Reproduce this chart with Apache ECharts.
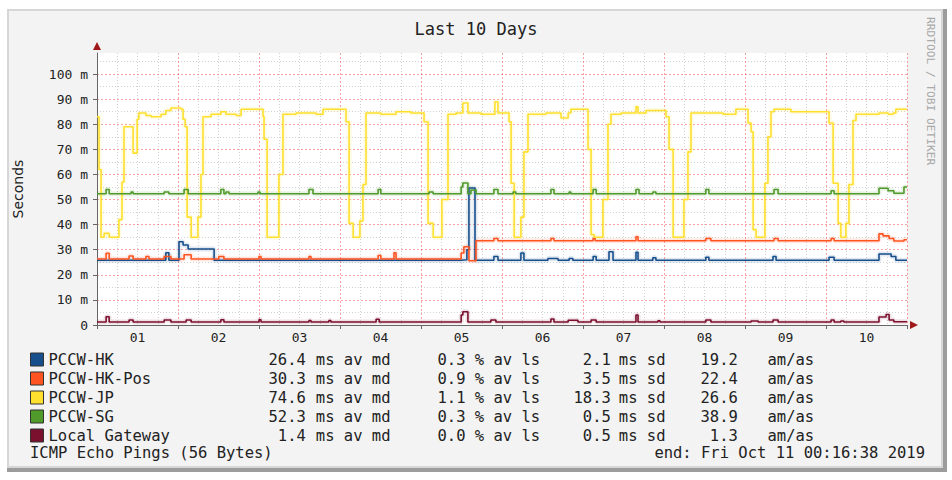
<!DOCTYPE html>
<html>
<head>
<meta charset="utf-8">
<title>Last 10 Days</title>
<script src="https://cdn.jsdelivr.net/npm/echarts@6/dist/echarts.min.js"></script>
<style>
html, body { margin: 0; padding: 0; background: #fff; }
#chart { width: 952px; height: 480px; }
</style>
</head>
<body>
<div id="chart"></div>
<script>
// x = hours since start of window, y = round trip time in ms
const dayLabels = ['01', '02', '03', '04', '05', '06', '07', '08', '09', '10'];
const names = ['PCCW-HK', 'PCCW-HK-Pos', 'PCCW-JP', 'PCCW-SG', 'Local Gateway'];
const colors = ['#174f8c', '#ff5421', '#ffe02e', '#4f9a2b', '#7a0f2e'];
const median = ['26.4', '30.3', '74.6', '52.3', '1.4'];
const loss = ['0.3', '0.9', '1.1', '0.3', '0.0'];
const stdev = ['2.1', '3.5', '18.3', '0.5', '0.5'];
const amas = ['19.2', '22.4', '26.6', '38.9', '1.3'];

const hk = [[0,25.8],[20.4,28.8],[21.3,25.8],[24.3,33.2],[25.5,31.9],[27.0,30.3],[34.7,25.8],
  [107.9,26],[109.6,30],[110.2,54.6],[112.0,25.8],[117.6,27.3],[118.8,25.8],[125.6,28.7],[126.5,25.8],
  [133.6,26.5],[136.6,25.8],[139.9,26.5],[141.0,25.8],[147.0,27.3],[147.9,25.8],[151.7,29.2],[152.9,25.8],
  [159.7,29],[160.3,25.8],[164.7,26.8],[165.6,25.8],[180.4,27],[181.3,25.8],[200.3,27.3],[201.2,25.8],
  [216.9,27],[218.4,25.8],[231.7,28.3],[235.3,27.3],[236.7,25.8],[240,25.8]];

const hkPos = [[0,26.3],[2.7,28.6],[3.6,26.3],[9.5,27.5],[10.7,26.3],[14.5,27.3],[15.4,26.3],[19.9,27.3],
  [21.9,26.3],[25.8,28],[27.9,26.3],[36.1,27.3],[37.6,26.3],[48.0,27.3],[48.6,26.3],[62.8,27.3],[63.4,26.3],
  [83.3,27.7],[84.1,26.3],[88.0,28.8],[88.6,26.3],[107.9,28.7],[108.7,31.2],[110.2,25.6],[112.3,33.6],
  [117.6,34.5],[118.8,33.6],[134.5,34.5],[135.4,33.6],[147.0,34.5],[147.6,33.6],[159.7,35.2],[160.3,33.6],
  [180.4,34.5],[181.9,33.6],[200.6,34.5],[201.8,33.6],[217.5,34.5],[218.4,33.6],[231.7,36.3],[232.9,35.5],
  [234.7,34.5],[236.1,33.5],[239.1,34],[240,34]];

const jp = [[0,83],[0.6,62],[1.2,35],[2.1,36.5],[3.6,35],[6.5,42],[7.4,57],[8.0,79],[10.7,68.5],[11.9,82],
  [12.4,84.5],[14.5,83.5],[16.0,83],[19.0,84],[20.4,85.5],[21.9,86.5],[24.9,86],[25.5,82],[26.1,79],[26.7,43],
  [27.9,35],[29.9,43],[30.8,60],[31.4,83],[33.8,84],[36.7,85],[38.2,84],[41.2,83.5],[42.7,86],[49.2,83],
  [49.5,74],[50.4,35],[53.9,60],[55.1,84],[59.0,84.5],[64.9,84],[67.0,86],[73.8,81],[74.7,40.5],[75.9,35],
  [77.9,41.5],[78.8,56],[79.7,84.5],[84.1,84],[88.6,85],[93.0,84.5],[96.9,81],[98.1,40.5],[99.6,35],
  [102.2,50],[104.0,84],[106.4,84.5],[108.4,88.5],[109.9,84.5],[113.8,84],[117.9,89],[118.8,84.5],[122.1,81],
  [122.7,56.5],[123.6,35],[125.6,43],[126.5,69],[127.7,84],[133.0,84.5],[137.5,82.5],[139.6,84.5],[140.4,86],
  [145.5,70],[146.4,36],[147.3,35],[149.9,50],[151.4,80],[152.3,84],[155.3,84.5],[159.7,87],[160.3,84.5],
  [162.7,85.5],[168.6,83],[169.5,70],[170.7,35],[173.9,50],[175.1,69],[176.0,84.5],[185.5,84],[189.3,86],
  [192.9,80.5],[193.8,77],[194.4,38],[195.3,35],[197.9,56.5],[198.8,75],[199.7,85],[200.6,86],[205.6,85],
  [216.9,80.5],[218.1,56.5],[219.6,40.5],[220.4,35],[221.9,40.5],[222.8,56],[224.0,81.5],[224.9,84],
  [231.7,84.5],[234.4,84],[235.9,84.5],[236.7,86],[240,86]];

const sg = [[0,52.3],[2.7,54],[3.6,52.3],[10.1,53],[10.7,52.3],[19.9,53],[21.3,52.3],[25.8,54],[27.0,52.3],
  [36.7,54],[37.6,52.3],[38.2,53],[39.1,52.3],[47.7,53],[48.3,52.3],[62.8,54],[64.0,52.3],[83.3,54],[84.1,52.3],
  [98.4,53],[99.6,52.3],[107.9,55],[108.4,56.6],[109.9,52.3],[110.8,53.8],[112.3,52.3],[117.6,54],[118.8,52.3],
  [123.3,53],[124.1,52.3],[134.5,54],[135.4,52.3],[139.9,53],[140.4,52.3],[147.0,54],[147.9,52.3],[159.7,54],
  [160.6,52.3],[164.7,53],[165.6,52.3],[180.4,54],[181.3,52.3],[200.6,54],[201.8,52.3],[217.5,53.5],[218.4,52.3],
  [231.7,54.5],[234.4,53.5],[236.1,52.5],[239.1,55],[240,55]];

const gw = [[0,1.2],[2.7,3.3],[3.6,1.2],[9.5,2],[10.7,1.2],[19.9,2],[21.9,1.2],[26.4,2],[27.9,1.2],[36.7,2.1],
  [37.6,1.2],[48.0,2.1],[48.6,1.2],[62.8,1.8],[63.4,1.2],[68.7,1.8],[69.3,1.2],[82.7,2.3],[83.6,1.2],[107.9,4],
  [108.4,5.3],[109.9,1.2],[116.7,2],[118.2,1.2],[134.5,2.4],[135.4,1.2],[139.6,1.9],[142.5,1.2],[146.4,2],
  [147.9,1.2],[159.7,4],[160.3,1.2],[166.2,1.7],[166.8,1.2],[180.4,2],[181.9,1.2],[193.8,1.6],[195.9,1.2],
  [200.3,2],[201.8,1.2],[217.5,2],[218.4,1.2],[220.4,1.6],[221.3,1.2],[231.7,3.2],[233.8,4.2],[234.7,2],
  [236.1,1.3],[240,1.3]];

const seriesData = [hk, hkPos, jp, sg, gw];
const footerLeft = 'ICMP Echo Pings (56 Bytes)';
const footerRight = 'end: Fri Oct 11 00:16:38 2019';

const mono = '"DejaVu Sans Mono", monospace';
const myChart = echarts.init(document.getElementById('chart'), null, { renderer: 'svg' });

let series = [];
// faint smoke under each line
seriesData.forEach(function (d, i) {
    series.push({
        name: names[i], type: 'line', step: 'end', data: d, showSymbol: false, silent: true,
        z: 1, color: colors[i],
        lineStyle: { width: 5, opacity: 0.13, color: colors[i] }
    });
});
seriesData.forEach(function (d, i) {
    series.push({
        name: names[i], type: 'line', step: 'end', data: d, showSymbol: false,
        z: 2 + i, color: colors[i],
        lineStyle: { width: 1.6, color: colors[i] }
    });
});

// all legend fields are left aligned boxes; numbers are padded with spaces (monospace)
function field (w) {
    return { width: w, align: 'left', fontFamily: mono, fontSize: 15.5, color: '#222', lineHeight: 17 };
}
function pad (s, n) {
    return String(s).padStart(n, ' ');
}

let option = {
    animation: false,
    backgroundColor: 'transparent',
    graphic: [
        { type: 'rect', z: -10, shape: { x: 7, y: 9, width: 940, height: 463 }, style: { fill: '#9c9c9c' } },
        { type: 'rect', z: -9, shape: { x: 7, y: 9, width: 936, height: 459 }, style: { fill: '#d6d6d6' } },
        { type: 'rect', z: -8, shape: { x: 9, y: 11, width: 932, height: 455 }, style: { fill: '#f3f3f3' } },
        {
            type: 'text', right: 16, top: 17, rotation: -Math.PI / 2,
            style: {
                text: 'RRDTOOL / TOBI OETIKER', fontSize: 11.2, fontFamily: 'DejaVu Sans Mono',
                fill: '#a9a9a9'
            }
        },
        { type: 'text', left: 30, top: 445, style: { text: footerLeft, fontSize: 15.5, fontFamily: 'DejaVu Sans Mono', fill: '#222' } },
        { type: 'text', right: 27, top: 445, style: { text: footerRight, fontSize: 15.5, fontFamily: 'DejaVu Sans Mono', fill: '#222' } }
    ],
    title: {
        text: 'Last 10 Days', left: 'center', top: 15,
        textStyle: { fontFamily: mono, fontSize: 17, fontWeight: 'normal', color: '#222' }
    },
    legend: {
        data: names, orient: 'vertical', left: 25, top: 346, itemGap: 2, padding: 5,
        itemWidth: 13, itemHeight: 13, icon: 'rect', selectedMode: false,
        itemStyle: { borderColor: '#333', borderWidth: 1 },
        formatter: function (name) {
            const i = names.indexOf(name);
            return '{n|' + name + '}{a|' + pad(median[i], 4) + '}{b| ms av md}{c|' + pad(loss[i], 3) +
                '}{d| % av ls}{e|' + pad(stdev[i], 4) + '}{f| ms sd}{g|' + pad(amas[i], 4) + '}{h|am/as}';
        },
        textStyle: {
            fontFamily: mono, fontSize: 15.5, color: '#222', lineHeight: 17,
            rich: {
                n: field(220), a: field(38), b: field(131), c: field(28), d: field(108),
                e: field(36), f: field(91), g: field(67), h: field(50)
            }
        }
    },
    grid: { left: 97, right: 45, top: 53, bottom: 155, show: true, backgroundColor: '#fff', borderWidth: 0 },
    xAxis: [{
        type: 'value', min: 0, max: 240, interval: 24,
        axisLine: { lineStyle: { color: '#666' } },
        axisTick: { length: 4, lineStyle: { color: '#666' } },
        axisLabel: {
            customValues: dayLabels.map(function (d, i) { return i * 24 + 12; }),
            formatter: function (v) { return dayLabels[Math.floor(v / 24)]; },
            fontFamily: mono, fontSize: 13, color: '#222', margin: 6
        },
        splitLine: { show: true, lineStyle: { color: 'rgba(235,90,90,0.55)', type: [2, 2] } },
        minorTick: { show: false, splitNumber: 4 },
        minorSplitLine: { show: true, lineStyle: { color: 'rgba(140,140,140,0.4)', type: [1, 2] } }
    }, {
        type: 'value', min: 0, max: 240, position: 'bottom',
        axisLine: { show: true, symbol: ['none', 'triangle'], symbolSize: [8, 8], symbolOffset: [0, 7], lineStyle: { color: '#a01818', width: 0 } },
        axisTick: { show: false }, axisLabel: { show: false }, splitLine: { show: false }
    }],
    yAxis: [{
        type: 'value', min: 0, max: 108.4, interval: 10,
        name: 'Seconds', nameLocation: 'middle', nameGap: 72,
        nameTextStyle: { fontFamily: '"DejaVu Sans", sans-serif', fontSize: 14, color: '#222' },
        axisLine: { show: true, lineStyle: { color: '#666' } },
        axisTick: { show: true, length: 4, lineStyle: { color: '#666' } },
        axisLabel: {
            showMaxLabel: false, margin: 9, fontFamily: mono, fontSize: 13, color: '#222',
            formatter: function (v) { return v % 10 !== 0 ? '' : (v === 0 ? '0' : v + ' m'); }
        },
        splitLine: { show: true, showMaxLine: false, lineStyle: { color: 'rgba(235,90,90,0.55)', type: [2, 2] } },
        minorTick: { show: false, splitNumber: 2 },
        minorSplitLine: { show: true, lineStyle: { color: 'rgba(140,140,140,0.4)', type: [1, 2] } }
    }, {
        type: 'value', min: 0, max: 108.4, position: 'left',
        axisLine: { show: true, symbol: ['none', 'triangle'], symbolSize: [8, 8], symbolOffset: [0, 7], lineStyle: { color: '#a01818', width: 0 } },
        axisTick: { show: false }, axisLabel: { show: false }, splitLine: { show: false }
    }],
    series: series
};
myChart.setOption(option);
</script>
</body>
</html>
